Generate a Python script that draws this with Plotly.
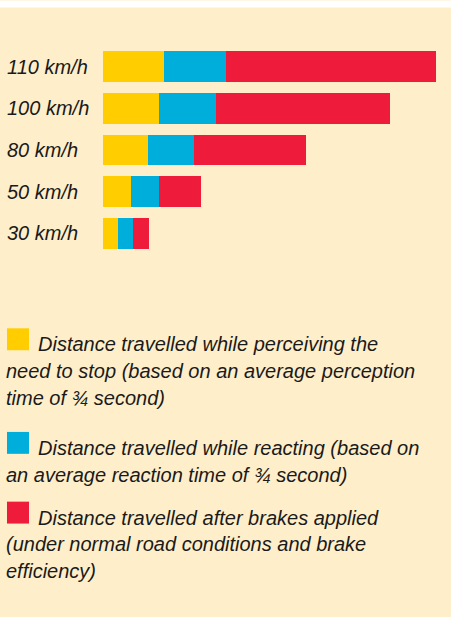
import plotly.graph_objects as go

# Stopping distance components (metres) by speed
speeds = ["30 km/h", "50 km/h", "80 km/h", "100 km/h", "110 km/h"]
perceiving = [5.6, 10.4, 16.8, 20.9, 22.8]
reacting = [5.6, 10.4, 17.2, 21.3, 23.1]
braking = [6.0, 15.7, 41.8, 64.9, 78.4]

series_names = ["Perceiving", "Reacting", "Braking"]
series_values = [perceiving, reacting, braking]
colors = ["#FFCD00", "#00AEDB", "#EE1B3B"]

legend_lines = [
    ["Distance travelled while perceiving the",
     "need to stop (based on an average perception",
     "time of ¾ second)"],
    ["Distance travelled while reacting (based on",
     "an average reaction time of ¾ second)"],
    ["Distance travelled after brakes applied",
     "(under normal road conditions and brake",
     "efficiency)"],
]

W, H = 451, 617
BG = "#FEEFCA"
INK = "#1a1a1a"
FONT = "Liberation Sans, Arial, Helvetica, sans-serif"

# plot area in pixels
L, R, T, B = 103, 443, 45.6, 254.4
PX_PER_M = 2.68


def px_x(x):
    return (x - L) / (R - L)


def px_y(y):
    return 1 - (y - T) / (B - T)


fig = go.Figure()
for name, vals, col in zip(series_names, series_values, colors):
    fig.add_trace(go.Bar(
        y=speeds, x=vals, name=name, orientation="h",
        marker=dict(color=col, line=dict(width=0)),
        hoverinfo="skip",
    ))

annotations = []
# speed labels, left-aligned at the panel edge
for s in speeds:
    annotations.append(dict(
        x=px_x(5), xref="paper", y=s, yref="y",
        text=f"<i>{s}</i>", showarrow=False,
        xanchor="left", yanchor="middle",
        font=dict(family=FONT, size=20, color=INK),
    ))

shapes = [
    # white strip above the cream panel
    dict(type="rect", xref="paper", yref="paper",
         x0=px_x(0), x1=px_x(W), y0=px_y(0), y1=px_y(7),
         fillcolor="white", line=dict(width=0), layer="below"),
]

# key: colour square followed by wrapped description
block_tops = [329, 433, 503]
line_step = 27
for top, lines, col in zip(block_tops, legend_lines, colors):
    shapes.append(dict(
        type="rect", xref="paper", yref="paper",
        x0=px_x(7), x1=px_x(29), y0=px_y(top), y1=px_y(top + 22),
        fillcolor=col, line=dict(width=0),
    ))
    baseline = top + 22
    for i, line in enumerate(lines):
        annotations.append(dict(
            x=px_x(36 if i == 0 else 4), xref="paper",
            y=px_y(baseline + i * line_step - 6), yref="paper",
            text=f"<i>{line}</i>", showarrow=False,
            xanchor="left", yanchor="middle",
            font=dict(family=FONT, size=20, color=INK),
        ))

fig.update_layout(
    width=W, height=H,
    margin=dict(l=L, r=W - R, t=T, b=H - B, pad=0),
    paper_bgcolor=BG, plot_bgcolor=BG,
    barmode="stack", bargap=0.257,
    showlegend=False, hovermode=False,
    xaxis=dict(range=[0, (R - L) / PX_PER_M], visible=False, fixedrange=True),
    yaxis=dict(visible=False, fixedrange=True, categoryorder="array",
               categoryarray=speeds),
    annotations=annotations, shapes=shapes,
)

fig.write_html("out.html", config={"displayModeBar": False})
